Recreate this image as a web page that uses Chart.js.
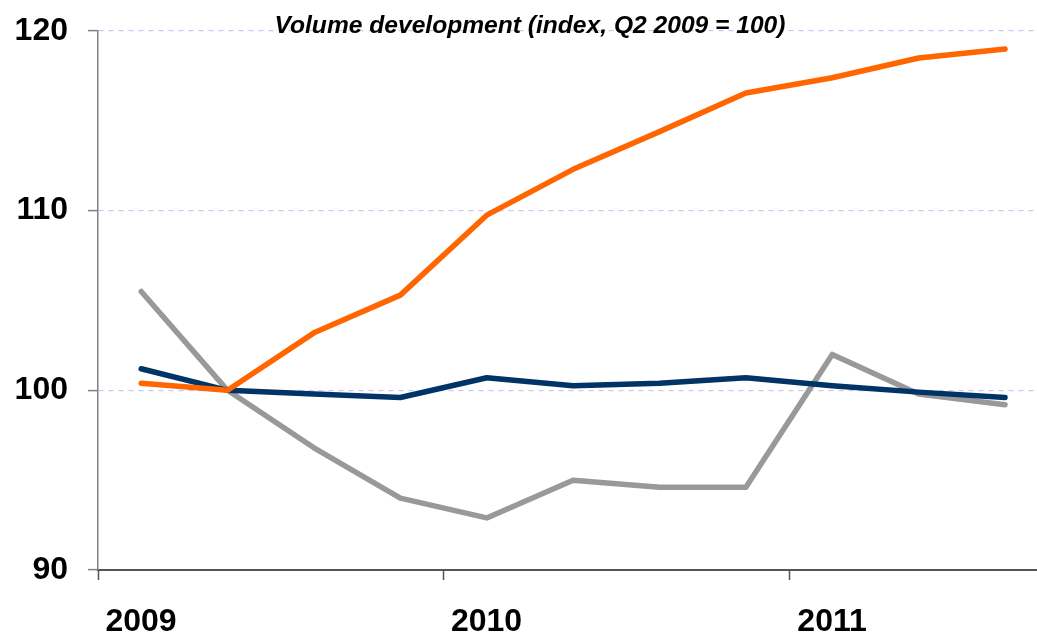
<!DOCTYPE html>
<html>
<head>
<meta charset="utf-8">
<script src="https://cdn.jsdelivr.net/npm/chart.js@4/dist/chart.umd.min.js"></script>
<style>
    html, body { margin: 0; padding: 0; background: #fff; }
    #wrap { width: 1037px; height: 638px; }
</style>
</head>
<body>
<div id="wrap"><canvas id="myChart"></canvas></div>
<script>
// quarters Q1 2009 .. Q3 2011
const quarters = ["Q1 2009", "Q2 2009", "Q3 2009", "Q4 2009",
                  "Q1 2010", "Q2 2010", "Q3 2010", "Q4 2010",
                  "Q1 2011", "Q2 2011", "Q3 2011"];
const orangeSeries = [100.4, 100.0, 103.2, 105.3, 109.75, 112.3, 114.4, 116.55, 117.4, 118.5, 119.0];
const navySeries   = [101.2, 100.0, 99.8, 99.6, 100.7, 100.25, 100.4, 100.7, 100.25, 99.9, 99.6];
const graySeries   = [105.5, 100.0, 96.8, 94.0, 92.9, 95.0, 94.6, 94.6, 102.0, 99.8, 99.2];
const yearLabels = ["2009", "2010", "2011"];
const yTicks = [90, 100, 110, 120];
const titleText = "Volume development (index, Q2 2009 = 100)";

// points sit in the middle of each quarter
const toPoints = (arr) => arr.map((v, i) => ({ x: i + 0.5, y: v }));

const titlePlugin = {
    id: "topTitle",
    afterDraw(chart) {
        const ctx = chart.ctx;
        const area = chart.chartArea;
        ctx.save();
        ctx.font = "italic bold 24.6px 'Liberation Sans', Arial, sans-serif";
        ctx.fillStyle = "#000";
        ctx.textAlign = "center";
        ctx.textBaseline = "alphabetic";
        ctx.fillText(titleText, 530, area.top + 2);
        ctx.restore();
    }
};

const lineStyle = (color) => ({
    borderColor: color,
    backgroundColor: color,
    borderWidth: 5.5,
    pointRadius: 0,
    tension: 0,
    borderCapStyle: "round",
    borderJoinStyle: "round",
    fill: false
});

const config = {
    type: "line",
    data: {
        datasets: [
            Object.assign({ label: "Orange", data: toPoints(orangeSeries) }, lineStyle("#ff6600")),
            Object.assign({ label: "Navy", data: toPoints(navySeries) }, lineStyle("#003366")),
            Object.assign({ label: "Gray", data: toPoints(graySeries) }, lineStyle("#999999"))
        ]
    },
    options: {
        responsive: true,
        maintainAspectRatio: false,
        animation: false,
        layout: { padding: { top: 31, right: 0, left: 0, bottom: 0 } },
        plugins: {
            legend: { display: false },
            tooltip: { enabled: false },
            title: { display: false }
        },
        scales: {
            x: {
                type: "linear",
                min: 0,
                max: 10.87,
                afterBuildTicks: (scale) => {
                    scale.ticks = yearLabels.map((l, i) => ({ value: i * 4 }));
                },
                afterFit: (scale) => {
                    scale.height = 68;
                    scale.paddingLeft = 0;
                    scale.paddingRight = 0;
                },
                grid: {
                    drawOnChartArea: false,
                    tickLength: 10,
                    tickColor: "#555",
                    tickWidth: 1.5
                },
                border: { color: "#555", width: 2 },
                ticks: {
                    autoSkip: false,
                    maxRotation: 0,
                    padding: 23,
                    labelOffset: 43,
                    color: "#000",
                    font: { family: "'Liberation Sans', Arial, sans-serif", size: 32, weight: "bold" },
                    callback: (v) => yearLabels[v / 4]
                }
            },
            y: {
                min: 90,
                max: 120,
                afterBuildTicks: (scale) => {
                    scale.ticks = yTicks.map((v) => ({ value: v }));
                },
                afterFit: (scale) => {
                    scale.width = 98;
                    scale.paddingTop = 0;
                    scale.paddingBottom = 0;
                },
                grid: {
                    color: (c) => (c.tick && c.tick.value === 90 ? "rgba(0,0,0,0)" : "#c8c8f4"),
                    lineWidth: 1.2,
                    tickLength: 10,
                    tickColor: "#808080",
                    tickWidth: 1.5,
                    tickBorderDash: []
                },
                border: { color: "#808080", width: 1.5, dash: [5, 5] },
                ticks: {
                    padding: 20,
                    color: "#000",
                    font: { family: "'Liberation Sans', Arial, sans-serif", size: 32, weight: "bold" },
                    callback: (v) => String(v)
                }
            }
        }
    },
    plugins: [titlePlugin]
};

const myChart = new Chart(document.getElementById("myChart"), config);
</script>
</body>
</html>
